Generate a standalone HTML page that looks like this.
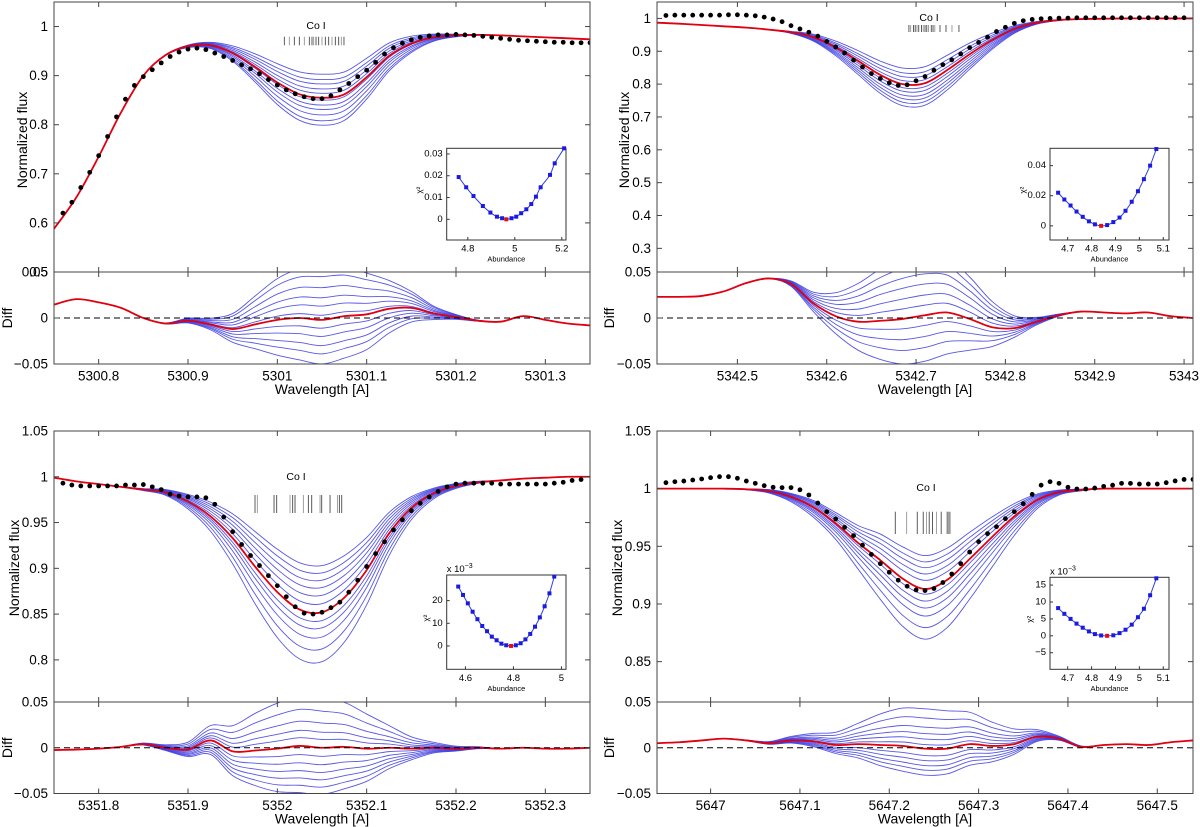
<!DOCTYPE html>
<html><head><meta charset="utf-8"><title>Co I abundance fits</title>
<style>
html,body{margin:0;padding:0;background:#fff;}
svg{display:block;font-family:"Liberation Sans",Arial,sans-serif;}
</style></head>
<body>
<svg id="fig" width="1200" height="827" viewBox="0 0 1200 827" xmlns="http://www.w3.org/2000/svg">
<rect x="0" y="0" width="1200" height="827" fill="#fff"/>
</svg>
<script>
// ---------- Panel 1 : Co I 5301 ----------
const P1_WAVE=[5300.75,5300.775,5300.8,5300.825,5300.85,5300.875,5300.9,5300.925,5300.95,5300.975,5301,5301.025,5301.05,5301.075,5301.1,5301.125,5301.15,5301.175,5301.2,5301.225,5301.25,5301.275,5301.3,5301.325,5301.35];
const P1_RED=[0.588,0.652,0.735,0.825,0.900,0.942,0.960,0.962,0.946,0.918,0.886,0.862,0.855,0.862,0.897,0.940,0.965,0.978,0.982,0.983,0.982,0.980,0.978,0.976,0.974];
const P1_SHAPE=[0,0,0,0,0,0.01,0.05,0.12,0.3,0.55,0.8,0.95,1,0.95,0.8,0.55,0.32,0.14,0.05,0.01,0,0,0,0,0];
const P1_OFF=[-0.048,-0.037,-0.028,-0.018,-0.009,0.005,0.015,0.024,0.035,0.047,0.056];
const P1_DIFF=[0.0145,0.0205,0.017,0.011,0.0,-0.006,-0.003,-0.007,-0.012,-0.007,-0.002,0.0,-0.002,0.002,0.004,0.010,0.011,0.005,0.001,-0.003,-0.004,0.002,-0.002,-0.006,-0.008];
const P1_OBS_W=[5300.76,5300.77,5300.78,5300.79,5300.80,5300.81,5300.82,5300.83,5300.84,5300.85,5300.86,5300.87,5300.88,5300.89,5300.90,5300.91,5300.92,5300.93,5300.94,5300.95,5300.96,5300.97,5300.98,5300.99,5301.00,5301.01,5301.02,5301.03,5301.04,5301.05,5301.06,5301.07,5301.08,5301.09,5301.10,5301.11,5301.12,5301.13,5301.14,5301.15,5301.16,5301.17,5301.18,5301.19,5301.20,5301.21,5301.22,5301.23,5301.24,5301.25,5301.26,5301.27,5301.28,5301.29,5301.30,5301.31,5301.32,5301.33,5301.34,5301.35];
const P1_OBS_F=[0.620,0.642,0.672,0.703,0.737,0.776,0.816,0.852,0.880,0.898,0.912,0.926,0.939,0.948,0.954,0.956,0.953,0.946,0.939,0.931,0.922,0.914,0.904,0.892,0.881,0.871,0.863,0.857,0.853,0.853,0.859,0.871,0.884,0.898,0.911,0.927,0.944,0.957,0.966,0.973,0.978,0.981,0.983,0.983,0.984,0.983,0.982,0.980,0.978,0.976,0.974,0.972,0.971,0.970,0.969,0.968,0.968,0.967,0.967,0.967];
const P1_LINES=[5301.0078,5301.0134,5301.019,5301.0246,5301.0302,5301.0358,5301.0388,5301.0407,5301.0433,5301.0463,5301.05,5301.0537,5301.0575,5301.0612,5301.0649,5301.0687,5301.0716,5301.0746];
const P1_ABUND=[4.761,4.793,4.824,4.864,4.896,4.924,4.946,4.964,4.986,5.006,5.027,5.049,5.07,5.09,5.11,5.15,5.17,5.21];
const P1_CHI2=[0.0194,0.0147,0.0107,0.0061,0.0031,0.0012,0.0005,0.0,0.0005,0.0012,0.0028,0.0046,0.0070,0.0104,0.0147,0.0204,0.0257,0.0326];
const P1_BEST=7;
const P1_XTICKS=[5300.8,5300.9,5301,5301.1,5301.2,5301.3];
const P1_XLABELS=["5300.8","5300.9","5301","5301.1","5301.2","5301.3"];
const P1_YTICKS=[0.5,0.6,0.7,0.8,0.9,1];
const P1_YLABELS=["0.5","0.6","0.7","0.8","0.9","1"];
const P1_IXTICKS=[4.8,5,5.2];
const P1_IXLABELS=["4.8","5","5.2"];
const P1_IYTICKS=[0,0.01,0.02,0.03];
const P1_IYLABELS=["0","0.01","0.02","0.03"];

// ---------- Panel 2 : Co I 5342 ----------
const P2_WAVE=[5342.41,5342.435,5342.46,5342.485,5342.51,5342.535,5342.56,5342.585,5342.61,5342.635,5342.66,5342.685,5342.71,5342.735,5342.76,5342.785,5342.81,5342.835,5342.86,5342.885,5342.91,5342.935,5342.96,5342.985,5343.01];
const P2_RED=[0.987,0.984,0.980,0.976,0.972,0.966,0.958,0.943,0.912,0.871,0.828,0.800,0.803,0.843,0.891,0.934,0.968,0.987,0.995,0.998,0.999,1.0,1.0,1.0,1.0];
const P2_SHAPE=[0,0,0,0,0,0,0.05,0.18,0.38,0.62,0.84,0.98,1.0,0.9,0.68,0.42,0.2,0.07,0.02,0,0,0,0,0,0];
const P2_OFF=[-0.05,-0.035,-0.023,-0.011,0,0.011,0.022,0.034,0.045,0.056,0.067];
const P2_DIFF=[0.023,0.023,0.024,0.029,0.038,0.043,0.037,0.016,0.002,-0.004,-0.003,-0.001,0.003,0.006,-0.001,-0.010,-0.011,-0.004,0.003,0.007,0.006,0.005,0.006,0.002,0.0];
const P2_OBS_W=[5342.42,5342.43,5342.44,5342.45,5342.46,5342.47,5342.48,5342.49,5342.50,5342.51,5342.52,5342.53,5342.54,5342.55,5342.56,5342.57,5342.58,5342.59,5342.60,5342.61,5342.62,5342.63,5342.64,5342.65,5342.66,5342.67,5342.68,5342.69,5342.70,5342.71,5342.72,5342.73,5342.74,5342.75,5342.76,5342.77,5342.78,5342.79,5342.80,5342.81,5342.82,5342.83,5342.84,5342.85,5342.86,5342.87,5342.88,5342.89,5342.90,5342.91,5342.92,5342.93,5342.94,5342.95,5342.96,5342.97,5342.98,5342.99,5343.00];
const P2_OBS_F=[1.009,1.010,1.010,1.010,1.010,1.010,1.010,1.011,1.011,1.010,1.008,1.004,0.998,0.990,0.978,0.968,0.958,0.946,0.930,0.913,0.895,0.873,0.852,0.832,0.817,0.804,0.796,0.798,0.810,0.823,0.842,0.859,0.874,0.892,0.911,0.927,0.943,0.960,0.973,0.985,0.993,0.997,0.999,1.0,1.001,1.001,1.002,1.002,1.002,1.002,1.002,1.002,1.002,1.002,1.002,1.002,1.002,1.002,1.002];
const P2_LINES=[5342.692,5342.694,5342.697,5342.699,5342.701,5342.703,5342.706,5342.708,5342.710,5342.712,5342.714,5342.717,5342.719,5342.721,5342.7268,5342.7335,5342.7402,5342.748];
const P2_ABUND=[4.66,4.686,4.712,4.737,4.763,4.789,4.814,4.84,4.865,4.891,4.917,4.942,4.968,4.994,5.019,5.045,5.071];
const P2_CHI2=[0.022,0.0175,0.0135,0.0095,0.006,0.003,0.001,0.0,0.0005,0.0025,0.0055,0.010,0.016,0.023,0.031,0.040,0.051];
const P2_BEST=7;
const P2_XTICKS=[5342.5,5342.6,5342.7,5342.8,5342.9,5343];
const P2_XLABELS=["5342.5","5342.6","5342.7","5342.8","5342.9","5343"];
const P2_YTICKS=[0.3,0.4,0.5,0.6,0.7,0.8,0.9,1];
const P2_YLABELS=["0.3","0.4","0.5","0.6","0.7","0.8","0.9","1"];
const P2_IXTICKS=[4.7,4.8,4.9,5,5.1];
const P2_IXLABELS=["4.7","4.8","4.9","5","5.1"];
const P2_IYTICKS=[0,0.02,0.04];
const P2_IYLABELS=["0","0.02","0.04"];

// ---------- Panel 3 : Co I 5352 ----------
const P3_WAVE=[5351.75,5351.775,5351.8,5351.825,5351.85,5351.875,5351.9,5351.925,5351.95,5351.975,5352,5352.025,5352.05,5352.075,5352.1,5352.125,5352.15,5352.175,5352.2,5352.225,5352.25,5352.275,5352.3,5352.325,5352.35];
const P3_RED=[0.999,0.995,0.992,0.989,0.986,0.983,0.973,0.957,0.933,0.902,0.874,0.855,0.852,0.868,0.898,0.938,0.966,0.982,0.990,0.994,0.996,0.998,0.999,1.0,1.0];
const P3_SHAPE=[0,0,0,0,0.02,0.06,0.15,0.3,0.52,0.75,0.92,1,1,0.9,0.7,0.45,0.24,0.11,0.05,0.02,0,0,0,0,0];
const P3_OFF=[-0.051,-0.043,-0.035,-0.027,-0.0185,-0.0094,0.009,0.017,0.027,0.040,0.054];
const P3_DIFF=[-0.0025,-0.002,-0.001,0.001,0.004,0.0,-0.002,0.008,-0.004,-0.003,-0.001,0.002,0.0,0.001,-0.001,0.0,-0.001,0.0,-0.001,0.0,-0.001,0.0,-0.001,-0.001,0.0];
const P3_OBS_W=[5351.76,5351.77,5351.78,5351.79,5351.80,5351.81,5351.82,5351.83,5351.84,5351.85,5351.86,5351.87,5351.88,5351.89,5351.90,5351.91,5351.92,5351.93,5351.94,5351.95,5351.96,5351.97,5351.98,5351.99,5352.00,5352.01,5352.02,5352.03,5352.04,5352.05,5352.06,5352.07,5352.08,5352.09,5352.10,5352.11,5352.12,5352.13,5352.14,5352.15,5352.16,5352.17,5352.18,5352.19,5352.20,5352.21,5352.22,5352.23,5352.24,5352.25,5352.26,5352.27,5352.28,5352.29,5352.30,5352.31,5352.32,5352.33,5352.34];
const P3_OBS_F=[0.993,0.991,0.990,0.990,0.990,0.990,0.990,0.991,0.991,0.9915,0.989,0.986,0.981,0.979,0.978,0.978,0.977,0.970,0.956,0.940,0.926,0.914,0.903,0.892,0.881,0.869,0.858,0.851,0.850,0.852,0.857,0.863,0.874,0.887,0.902,0.916,0.929,0.942,0.953,0.963,0.971,0.978,0.984,0.989,0.992,0.993,0.993,0.993,0.993,0.992,0.992,0.992,0.992,0.992,0.992,0.993,0.994,0.996,0.997];
const P3_LINES=[5351.975,5351.9776,5351.9963,5351.9993,5352.0142,5352.0172,5352.0198,5352.0291,5352.0347,5352.0385,5352.0478,5352.0497,5352.0590,5352.0672,5352.0694,5352.0721];
const P3_ABUND=[4.57,4.59,4.61,4.63,4.65,4.67,4.69,4.71,4.73,4.75,4.77,4.79,4.81,4.83,4.85,4.87,4.89,4.91,4.93,4.95,4.97];
const P3_CHI2=[26.2,22.5,18.8,15.1,11.8,8.8,6.5,4.1,2.5,1.0,0.3,0.0,0.3,1.2,2.9,5.3,8.5,12.6,17.5,23.2,30.6];
const P3_BEST=11;
const P3_XTICKS=[5351.8,5351.9,5352,5352.1,5352.2,5352.3];
const P3_XLABELS=["5351.8","5351.9","5352","5352.1","5352.2","5352.3"];
const P3_YTICKS=[0.8,0.85,0.9,0.95,1,1.05];
const P3_YLABELS=["0.8","0.85","0.9","0.95","1","1.05"];
const P3_IXTICKS=[4.6,4.8,5];
const P3_IXLABELS=["4.6","4.8","5"];
const P3_IYTICKS=[0,10,20];
const P3_IYLABELS=["0","10","20"];

// ---------- Panel 4 : Co I 5647 ----------
const P4_WAVE=[5646.94,5646.965,5646.99,5647.015,5647.04,5647.065,5647.09,5647.115,5647.14,5647.165,5647.19,5647.215,5647.24,5647.265,5647.29,5647.315,5647.34,5647.365,5647.39,5647.415,5647.44,5647.465,5647.49,5647.515,5647.54];
const P4_RED=[1,1,1,1,0.9995,0.998,0.993,0.984,0.970,0.953,0.938,0.922,0.913,0.921,0.939,0.958,0.976,0.990,0.997,0.999,1,1,1,1,1];
const P4_SHAPE=[0,0,0,0,0.01,0.04,0.1,0.2,0.32,0.52,0.78,0.95,1,0.95,0.8,0.6,0.38,0.18,0.06,0.02,0,0,0,0,0];
const P4_OFF=[-0.029,-0.0235,-0.0185,-0.013,-0.0075,0.0045,0.0105,0.0165,0.0235,0.0335,0.0435];
const P4_DIFF=[0.005,0.006,0.008,0.010,0.008,0.005,0.008,0.007,0.003,0.004,0.003,0.002,-0.001,-0.001,0.004,0.002,0.004,0.012,0.010,0.001,0.003,0.004,0.003,0.006,0.008];
const P4_OBS_W=[5646.95,5646.96,5646.97,5646.98,5646.99,5647.00,5647.01,5647.02,5647.03,5647.04,5647.05,5647.06,5647.07,5647.08,5647.09,5647.10,5647.11,5647.12,5647.13,5647.14,5647.15,5647.16,5647.17,5647.18,5647.19,5647.20,5647.21,5647.22,5647.23,5647.24,5647.25,5647.26,5647.27,5647.28,5647.29,5647.30,5647.31,5647.32,5647.33,5647.34,5647.35,5647.36,5647.37,5647.38,5647.39,5647.40,5647.41,5647.42,5647.43,5647.44,5647.45,5647.46,5647.47,5647.48,5647.49,5647.50,5647.51,5647.52,5647.53,5647.54];
const P4_OBS_F=[1.0052,1.006,1.0066,1.0075,1.0084,1.0095,1.0104,1.0104,1.009,1.0066,1.0046,1.0026,1.0012,1.0009,1.0009,0.999,0.9945,0.9875,0.980,0.9737,0.9665,0.9593,0.951,0.943,0.935,0.9275,0.9206,0.9154,0.9122,0.9116,0.9134,0.9186,0.926,0.935,0.945,0.954,0.961,0.967,0.974,0.980,0.987,0.995,1.003,1.006,1.0046,1.0012,0.9997,0.9997,1.0005,1.002,1.003,1.0046,1.0046,1.004,1.004,1.004,1.0052,1.0067,1.008,1.008];
const P4_LINES=[5647.2067,5647.2195,5647.2313,5647.2380,5647.2418,5647.2447,5647.2485,5647.2530,5647.2581,5647.2648,5647.2664,5647.2679];
const P4_ABUND=[4.66,4.686,4.712,4.737,4.763,4.789,4.814,4.84,4.865,4.891,4.917,4.942,4.968,4.994,5.019,5.045,5.071];
const P4_CHI2=[8.2,6.5,5.0,3.6,2.4,1.3,0.5,0.1,0.0,0.15,0.8,1.8,3.3,5.5,8.0,12,17];
const P4_BEST=8;
const P4_XTICKS=[5647,5647.1,5647.2,5647.3,5647.4,5647.5];
const P4_XLABELS=["5647","5647.1","5647.2","5647.3","5647.4","5647.5"];
const P4_YTICKS=[0.85,0.9,0.95,1,1.05];
const P4_YLABELS=["0.85","0.9","0.95","1","1.05"];
const P4_IXTICKS=[4.7,4.8,4.9,5,5.1];
const P4_IXLABELS=["4.7","4.8","4.9","5","5.1"];
const P4_IYTICKS=[-5,0,5,10,15];
const P4_IYLABELS=["\u22125","0","5","10","15"];

const DIFF_TICKS=[-0.05,0,0.05];
const DIFF_LABELS=["\u22120.05","0","0.05"];

const NS="http://www.w3.org/2000/svg";
const svg=document.getElementById('fig');
function el(tag,parent){const e=document.createElementNS(NS,tag);(parent||svg).appendChild(e);return e;}
function sx(c,v){return c.L+(v-c.xlim[0])/(c.xlim[1]-c.xlim[0])*(c.R-c.L);}
function syM(c,v){return c.mB-(v-c.ylim[0])/(c.ylim[1]-c.ylim[0])*(c.mB-c.mT);}
function syD(c,v){return c.dB-(v+0.05)/0.1*(c.dB-c.mB);}
function smooth(pts){
  let d='M'+pts[0][0].toFixed(2)+','+pts[0][1].toFixed(2);
  for(let i=0;i<pts.length-1;i++){
    const p0=pts[Math.max(i-1,0)],p1=pts[i],p2=pts[i+1],p3=pts[Math.min(i+2,pts.length-1)];
    const c1x=p1[0]+(p2[0]-p0[0])/6,c1y=p1[1]+(p2[1]-p0[1])/6,c2x=p2[0]-(p3[0]-p1[0])/6,c2y=p2[1]-(p3[1]-p1[1])/6;
    d+='C'+c1x.toFixed(2)+','+c1y.toFixed(2)+' '+c2x.toFixed(2)+','+c2y.toFixed(2)+' '+p2[0].toFixed(2)+','+p2[1].toFixed(2);
  }
  return d;
}
function txt(parent,x,y,s,size,anchor){
  const t=el('text',parent);t.setAttribute('x',x);t.setAttribute('y',y);t.setAttribute('font-size',size);
  t.setAttribute('text-anchor',anchor||'middle');t.setAttribute('dominant-baseline','central');t.setAttribute('fill','#000');t.textContent=s;return t;
}

function drawPanel(c,d){
  const g=el('g');
  
  
  const id=c.name;
  const defs=el('defs',g);
  const cpM=el('clipPath',defs);cpM.setAttribute('id',id+'-cm');
  const r1=el('rect',cpM);r1.setAttribute('x',c.L);r1.setAttribute('y',c.mT);r1.setAttribute('width',c.R-c.L);r1.setAttribute('height',c.mB-c.mT);
  const cpD=el('clipPath',defs);cpD.setAttribute('id',id+'-cd');
  const r2=el('rect',cpD);r2.setAttribute('x',c.L);r2.setAttribute('y',c.mB);r2.setAttribute('width',c.R-c.L);r2.setAttribute('height',c.dB-c.mB);

  const gm=el('g',g);gm.setAttribute('clip-path','url(#'+id+'-cm)');
  
  
  d.off.forEach((o,k)=>{
    const pts=d.wave.map((w,i)=>[sx(c,w),syM(c,d.red[i]-o*d.shape[i])]);
    const p=el('path',gm);p.setAttribute('d',smooth(pts));p.setAttribute('fill','none');p.setAttribute('stroke','#3a3ae0');p.setAttribute('stroke-width','0.9');p.setAttribute('stroke-opacity','0.85');
    
    
  });
  const rp=el('path',gm);rp.setAttribute('d',smooth(d.wave.map((w,i)=>[sx(c,w),syM(c,d.red[i])])));
  rp.setAttribute('fill','none');rp.setAttribute('stroke','#e00010');rp.setAttribute('stroke-width','1.8');
  
  
  d.obsW.forEach((w,i)=>{
    const ci=el('circle',gm);ci.setAttribute('cx',sx(c,w));ci.setAttribute('cy',syM(c,d.obsF[i]));ci.setAttribute('r','2.4');ci.setAttribute('fill','#000');
    
    
  });
  d.lines.forEach((w,i)=>{
    const l=el('line',g);const x=sx(c,w);l.setAttribute('x1',x);l.setAttribute('x2',x);l.setAttribute('y1',c.lineY[0]);l.setAttribute('y2',c.lineY[1]);
    l.setAttribute('stroke',i%3===1?'#888':'#333');l.setAttribute('stroke-width','0.8');
    
    
  });
  const lt=txt(g,c.labelPos[0],c.labelPos[1],'Co I',10.5);
  
  

  const gd=el('g',g);gd.setAttribute('clip-path','url(#'+id+'-cd)');
  
  
  d.off.forEach((o,k)=>{
    const pts=d.wave.map((w,i)=>[sx(c,w),syD(c,d.diff[i]+o*d.shape[i])]);
    const p=el('path',gd);p.setAttribute('d',smooth(pts));p.setAttribute('fill','none');p.setAttribute('stroke','#3a3ae0');p.setAttribute('stroke-width','0.9');p.setAttribute('stroke-opacity','0.85');
    
    
  });
  const rd=el('path',gd);rd.setAttribute('d',smooth(d.wave.map((w,i)=>[sx(c,w),syD(c,d.diff[i])])));
  rd.setAttribute('fill','none');rd.setAttribute('stroke','#e00010');rd.setAttribute('stroke-width','1.8');
  
  
  const zl=el('line',g);zl.setAttribute('x1',c.L);zl.setAttribute('x2',c.R);zl.setAttribute('y1',syD(c,0));zl.setAttribute('y2',syD(c,0));
  zl.setAttribute('stroke','#000');zl.setAttribute('stroke-width','1');zl.setAttribute('stroke-dasharray','6,4');
  
  

  [[c.mT,c.mB],[c.mB,c.dB]].forEach((yy,j)=>{
    const f=el('rect',g);f.setAttribute('x',c.L);f.setAttribute('y',yy[0]);f.setAttribute('width',c.R-c.L);f.setAttribute('height',yy[1]-yy[0]);
    f.setAttribute('fill','none');f.setAttribute('stroke','#444');f.setAttribute('stroke-width','1');
    
    
  });
  const tk=el('g',g);tk.setAttribute('stroke','#444');tk.setAttribute('stroke-width','1');
  
  
  function tl(x1,y1,x2,y2){const l=el('line',tk);l.setAttribute('x1',x1);l.setAttribute('y1',y1);l.setAttribute('x2',x2);l.setAttribute('y2',y2);}
  d.xticks.forEach((v,i)=>{
    const x=sx(c,v);
    tl(x,c.mT,x,c.mT+5);tl(x,c.mB,x,c.mB-5);tl(x,c.mB,x,c.mB+5);tl(x,c.dB,x,c.dB-5);
    const t=txt(g,x,c.dB+12,d.xlabels[i],13.5);
    
    
  });
  d.yticks.forEach((v,i)=>{
    const y=syM(c,v);tl(c.L,y,c.L+5,y);tl(c.R,y,c.R-5,y);
    const t=txt(g,c.L-6,y,d.ylabels[i],13.5,'end');
    
    
  });
  DIFF_TICKS.forEach((v,i)=>{
    const y=syD(c,v);tl(c.L,y,c.L+5,y);tl(c.R,y,c.R-5,y);
    const t=txt(g,c.L-6,y,DIFF_LABELS[i],13.5,'end');
    
    
  });
  const xt=txt(g,(c.L+c.R)/2,c.dB+25,'Wavelength [A]',14);
  
  
  const yt=txt(g,0,0,'Normalized flux',14);yt.setAttribute('transform','translate('+c.yTitle[0]+','+c.yTitle[1]+') rotate(-90)');
  
  
  const dt=txt(g,0,0,'Diff',14);dt.setAttribute('transform','translate('+c.dTitle[0]+','+((c.mB+c.dB)/2)+') rotate(-90)');
  
  

  const ic=c.inset;
  const gi=el('g',g);
  
  
  const ix=v=>ic.x0+(v-ic.xlim[0])/(ic.xlim[1]-ic.xlim[0])*(ic.x1-ic.x0);
  const iy=v=>ic.y1-(v-ic.ylim[0])/(ic.ylim[1]-ic.ylim[0])*(ic.y1-ic.y0);
  const ib=el('rect',gi);ib.setAttribute('x',ic.x0);ib.setAttribute('y',ic.y0);ib.setAttribute('width',ic.x1-ic.x0);ib.setAttribute('height',ic.y1-ic.y0);
  ib.setAttribute('fill','#fff');ib.setAttribute('stroke','#333');ib.setAttribute('stroke-width','1');
  const ipts=d.abund.map((a,i)=>[ix(a),iy(d.chi2[i])]);
  const il=el('path',gi);il.setAttribute('d',smooth(ipts));il.setAttribute('fill','none');il.setAttribute('stroke','#2f3fe0');il.setAttribute('stroke-width','1');
  
  
  ipts.forEach((p,i)=>{
    const m=el('rect',gi);m.setAttribute('x',p[0]-2);m.setAttribute('y',p[1]-2);m.setAttribute('width',4);m.setAttribute('height',4);
    m.setAttribute('fill',i===d.best?'#e01010':'#1a1ae0');
    
    
  });
  d.ixticks.forEach((v,i)=>{
    const x=ix(v);const a=el('line',gi);a.setAttribute('x1',x);a.setAttribute('x2',x);a.setAttribute('y1',ic.y1);a.setAttribute('y2',ic.y1-3);a.setAttribute('stroke','#333');
    const t=txt(gi,x,ic.y1+9,d.ixlabels[i],9.5);
    
    
  });
  d.iyticks.forEach((v,i)=>{
    const y=iy(v);const a=el('line',gi);a.setAttribute('x1',ic.x0);a.setAttribute('x2',ic.x0+3);a.setAttribute('y1',y);a.setAttribute('y2',y);a.setAttribute('stroke','#333');
    const t=txt(gi,ic.x0-4,y,d.iylabels[i],9.5,'end');
    
    
  });
  const ab=txt(gi,(ic.x0+ic.x1)/2,ic.y1+19,'Abundance',7.5);
  
  
  const ch=txt(gi,0,0,'\u03c7\u00b2',8);ch.setAttribute('transform','translate('+(ic.x0-ic.ylabOff)+','+((ic.y0+ic.y1)/2-4)+') rotate(-90)');
  
  
  if(ic.exp){
    const e=el('text',gi);e.setAttribute('x',ic.x0);e.setAttribute('y',ic.y0-3);e.setAttribute('font-size','9.5');
    e.innerHTML='x 10<tspan dy="-4" font-size="7">\u22123</tspan>';
    
    
  }
}

drawPanel({name:'panel-5301',L:54,R:590,mT:2,mB:272,dB:364,xlim:[5300.75,5301.35],ylim:[0.5,1.05],lineY:[36.7,45.3],labelPos:[316,26],yTitle:[22,140],dTitle:[7],
  inset:{x0:446.7,y0:148.3,x1:566,y1:240,xlim:[4.71,5.218],ylim:[-0.0095,0.0326],ylabOff:27,exp:false}},
  {wave:P1_WAVE,red:P1_RED,shape:P1_SHAPE,off:P1_OFF,diff:P1_DIFF,obsW:P1_OBS_W,obsF:P1_OBS_F,lines:P1_LINES,abund:P1_ABUND,chi2:P1_CHI2,best:P1_BEST,
   xticks:P1_XTICKS,xlabels:P1_XLABELS,yticks:P1_YTICKS,ylabels:P1_YLABELS,ixticks:P1_IXTICKS,ixlabels:P1_IXLABELS,iyticks:P1_IYTICKS,iylabels:P1_IYLABELS});
drawPanel({name:'panel-5342',L:657,R:1193,mT:2,mB:272,dB:364,xlim:[5342.41,5343.01],ylim:[0.228,1.05],lineY:[25,32],labelPos:[929,18],yTitle:[624,140],dTitle:[609],
  inset:{x0:1050,y0:148.3,x1:1169,y1:240,xlim:[4.626,5.124],ylim:[-0.0094,0.0515],ylabOff:27,exp:false}},
  {wave:P2_WAVE,red:P2_RED,shape:P2_SHAPE,off:P2_OFF,diff:P2_DIFF,obsW:P2_OBS_W,obsF:P2_OBS_F,lines:P2_LINES,abund:P2_ABUND,chi2:P2_CHI2,best:P2_BEST,
   xticks:P2_XTICKS,xlabels:P2_XLABELS,yticks:P2_YTICKS,ylabels:P2_YLABELS,ixticks:P2_IXTICKS,ixlabels:P2_IXLABELS,iyticks:P2_IYTICKS,iylabels:P2_IYLABELS});
drawPanel({name:'panel-5352',L:54,R:590,mT:431,mB:702,dB:793.5,xlim:[5351.75,5352.35],ylim:[0.754,1.05],lineY:[495,513],labelPos:[296,477],yTitle:[14,568],dTitle:[7],
  inset:{x0:446.7,y0:575,x1:566,y1:669.3,xlim:[4.522,5.019],ylim:[-10.3,31.3],ylabOff:20,exp:true}},
  {wave:P3_WAVE,red:P3_RED,shape:P3_SHAPE,off:P3_OFF,diff:P3_DIFF,obsW:P3_OBS_W,obsF:P3_OBS_F,lines:P3_LINES,abund:P3_ABUND,chi2:P3_CHI2,best:P3_BEST,
   xticks:P3_XTICKS,xlabels:P3_XLABELS,yticks:P3_YTICKS,ylabels:P3_YLABELS,ixticks:P3_IXTICKS,ixlabels:P3_IXLABELS,iyticks:P3_IYTICKS,iylabels:P3_IYLABELS});
drawPanel({name:'panel-5647',L:657,R:1193,mT:431,mB:702,dB:793.5,xlim:[5646.94,5647.54],ylim:[0.815,1.05],lineY:[511.7,534],labelPos:[926,488],yTitle:[617,568],dTitle:[609],
  inset:{x0:1050,y0:577.3,x1:1169,y1:669.3,xlim:[4.626,5.124],ylim:[-9.9,17.3],ylabOff:20,exp:true}},
  {wave:P4_WAVE,red:P4_RED,shape:P4_SHAPE,off:P4_OFF,diff:P4_DIFF,obsW:P4_OBS_W,obsF:P4_OBS_F,lines:P4_LINES,abund:P4_ABUND,chi2:P4_CHI2,best:P4_BEST,
   xticks:P4_XTICKS,xlabels:P4_XLABELS,yticks:P4_YTICKS,ylabels:P4_YLABELS,ixticks:P4_IXTICKS,ixlabels:P4_IXLABELS,iyticks:P4_IYTICKS,iylabels:P4_IYLABELS});
</script>
</body></html>
